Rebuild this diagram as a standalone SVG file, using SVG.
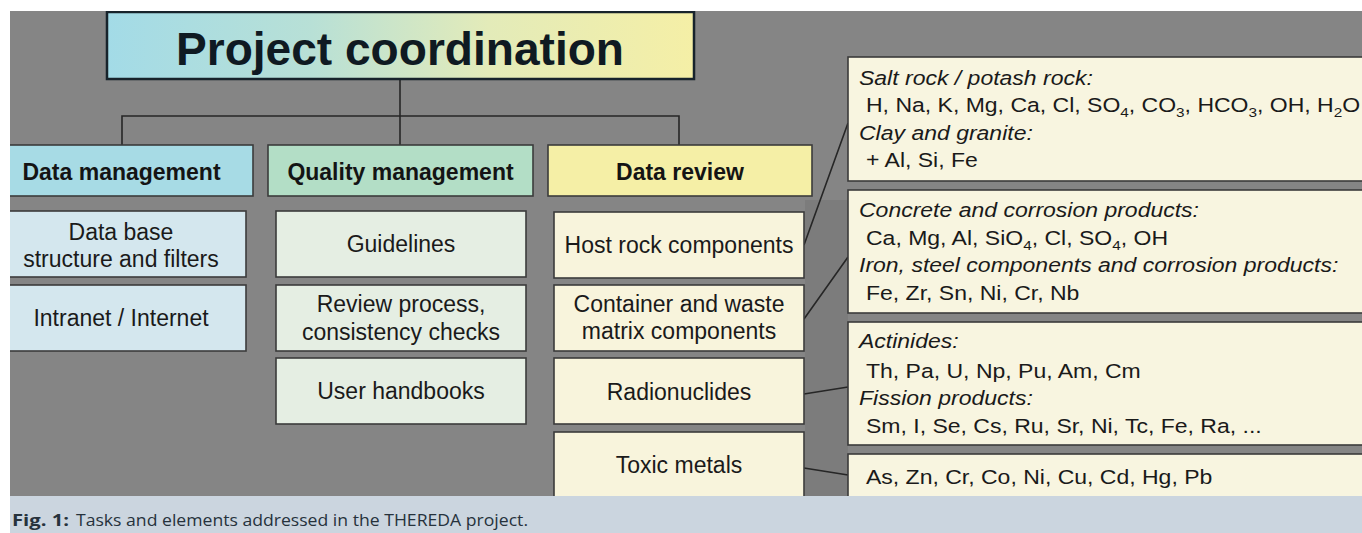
<svg xmlns="http://www.w3.org/2000/svg" width="1362" height="533" viewBox="0 0 1362 533">
<defs>
<linearGradient id="gTitle" x1="0" y1="0" x2="1" y2="0">
<stop offset="0" stop-color="#a3dbe7"/>
<stop offset="0.35" stop-color="#b8e0d6"/>
<stop offset="0.65" stop-color="#e3ebb9"/>
<stop offset="1" stop-color="#f5efa6"/>
</linearGradient>
<clipPath id="area"><rect x="10" y="11" width="1352" height="485"/></clipPath>
<style>
.bx{stroke:#3b3b3b;stroke-width:1.6}
.hd{font-family:"Liberation Sans",Arial,sans-serif;font-weight:bold;font-size:23px;fill:#141414;text-anchor:middle}
.tx{font-family:"Liberation Sans",Arial,sans-serif;font-size:23px;fill:#1a1a1a;text-anchor:middle}
.rt{font-family:"Liberation Sans",Arial,sans-serif;font-size:19.5px;fill:#1a1a1a}
.it{font-style:italic}
.sb{font-size:13px}
.ln{stroke:#262626;stroke-width:1.6;fill:none}
.c1{fill:#d4e7ee}
.c2{fill:#e5eee3}
.c3{fill:#f8f4dc}
.rb{fill:#f8f5e0;stroke:#3b3b3b;stroke-width:1.6}
.cap{font-family:"Open Sans","Liberation Sans",sans-serif;font-size:16px;fill:#26323c}
</style>
</defs>
<rect x="0" y="0" width="1362" height="533" fill="#ffffff"/>
<g clip-path="url(#area)">
<rect x="10" y="11" width="1352" height="485" fill="#858585"/>
<rect x="805" y="200" width="43" height="296" fill="#7c7c7c"/>

<g id="connectors">
<path class="ln" d="M400 79V116M122 145V116H679V145M400 116V145"/>
<path class="ln" d="M804 245L848 123M804 319L848 257M804 394L848 387M804 468L848 475"/>
</g>

<g id="title">
<rect x="107" y="12" width="587" height="67" fill="url(#gTitle)" stroke="#17232b" stroke-width="2.5"/>
<text x="400" y="65" font-family="'Liberation Sans',Arial,sans-serif" font-weight="bold" font-size="47" fill="#0f1a22" text-anchor="middle" textLength="448" lengthAdjust="spacingAndGlyphs">Project coordination</text>
</g>

<g id="data-management">
<rect class="bx" x="-10" y="145" width="263" height="51" fill="#a7dbe5"/>
<text class="hd" x="121.5" y="180">Data management</text>
</g>
<g id="quality-management">
<rect class="bx" x="268" y="145" width="265" height="51" fill="#b3dec6"/>
<text class="hd" x="400.5" y="180">Quality management</text>
</g>
<g id="data-review">
<rect class="bx" x="548" y="145" width="264" height="51" fill="#f5efa6"/>
<text class="hd" x="680" y="180">Data review</text>
</g>

<g id="db-structure">
<rect class="bx c1" x="-4" y="211" width="250" height="66"/>
<text class="tx" x="121" y="240">Data base</text>
<text class="tx" x="121" y="267">structure and filters</text>
</g>
<g id="intranet">
<rect class="bx c1" x="-4" y="285" width="250" height="66"/>
<text class="tx" x="121" y="326">Intranet / Internet</text>
</g>

<g id="guidelines">
<rect class="bx c2" x="276" y="211" width="250" height="66"/>
<text class="tx" x="401" y="252">Guidelines</text>
</g>
<g id="review-process">
<rect class="bx c2" x="276" y="285" width="250" height="66"/>
<text class="tx" x="401" y="312">Review process,</text>
<text class="tx" x="401" y="340">consistency checks</text>
</g>
<g id="user-handbooks">
<rect class="bx c2" x="276" y="358" width="250" height="66"/>
<text class="tx" x="401" y="399">User handbooks</text>
</g>

<g id="host-rock">
<rect class="bx c3" x="554" y="212" width="250" height="66"/>
<text class="tx" x="679" y="253">Host rock components</text>
</g>
<g id="container">
<rect class="bx c3" x="554" y="285" width="250" height="66"/>
<text class="tx" x="679" y="312">Container and waste</text>
<text class="tx" x="679" y="339">matrix components</text>
</g>
<g id="radionuclides">
<rect class="bx c3" x="554" y="358" width="250" height="66"/>
<text class="tx" x="679" y="400">Radionuclides</text>
</g>
<g id="toxic-metals">
<rect class="bx c3" x="554" y="432" width="250" height="80"/>
<text class="tx" x="679" y="473">Toxic metals</text>
</g>

<g id="host-rock-elements">
<rect class="rb" x="848" y="57" width="530" height="124"/>
<g transform="translate(859,85) scale(1.18,1)"><text class="rt it">Salt rock / potash rock:</text></g>
<g transform="translate(866,112) scale(1.18,1)"><text class="rt">H, Na, K, Mg, Ca, Cl, SO<tspan class="sb" dy="5">4</tspan><tspan dy="-5">, CO</tspan><tspan class="sb" dy="5">3</tspan><tspan dy="-5">, HCO</tspan><tspan class="sb" dy="5">3</tspan><tspan dy="-5">, OH, H</tspan><tspan class="sb" dy="5">2</tspan><tspan dy="-5">O</tspan></text></g>
<g transform="translate(859,140) scale(1.18,1)"><text class="rt it">Clay and granite:</text></g>
<g transform="translate(866,167) scale(1.18,1)"><text class="rt">+ Al, Si, Fe</text></g>
</g>

<g id="container-elements">
<rect class="rb" x="848" y="190" width="530" height="123"/>
<g transform="translate(859,217) scale(1.18,1)"><text class="rt it">Concrete and corrosion products:</text></g>
<g transform="translate(866,245) scale(1.18,1)"><text class="rt">Ca, Mg, Al, SiO<tspan class="sb" dy="5">4</tspan><tspan dy="-5">, Cl, SO</tspan><tspan class="sb" dy="5">4</tspan><tspan dy="-5">, OH</tspan></text></g>
<g transform="translate(859,272) scale(1.18,1)"><text class="rt it">Iron, steel components and corrosion products:</text></g>
<g transform="translate(866,300) scale(1.18,1)"><text class="rt">Fe, Zr, Sn, Ni, Cr, Nb</text></g>
</g>

<g id="radionuclide-elements">
<rect class="rb" x="848" y="322" width="530" height="123"/>
<g transform="translate(859,348) scale(1.18,1)"><text class="rt it">Actinides:</text></g>
<g transform="translate(866,378) scale(1.18,1)"><text class="rt">Th, Pa, U, Np, Pu, Am, Cm</text></g>
<g transform="translate(859,405) scale(1.18,1)"><text class="rt it">Fission products:</text></g>
<g transform="translate(866,433) scale(1.18,1)"><text class="rt">Sm, I, Se, Cs, Ru, Sr, Ni, Tc, Fe, Ra, ...</text></g>
</g>

<g id="toxic-elements">
<rect class="rb" x="848" y="454" width="530" height="80"/>
<g transform="translate(866,484) scale(1.18,1)"><text class="rt">As, Zn, Cr, Co, Ni, Cu, Cd, Hg, Pb</text></g>
</g>
</g>

<g id="caption">
<rect x="10" y="496" width="1352" height="37" fill="#cbd5df"/>
<text class="cap" x="12" y="526" font-weight="bold" textLength="57" lengthAdjust="spacingAndGlyphs">Fig. 1:</text>
<text class="cap" x="76" y="526" textLength="452" lengthAdjust="spacingAndGlyphs">Tasks and elements addressed in the THEREDA project.</text>
</g>
</svg>
